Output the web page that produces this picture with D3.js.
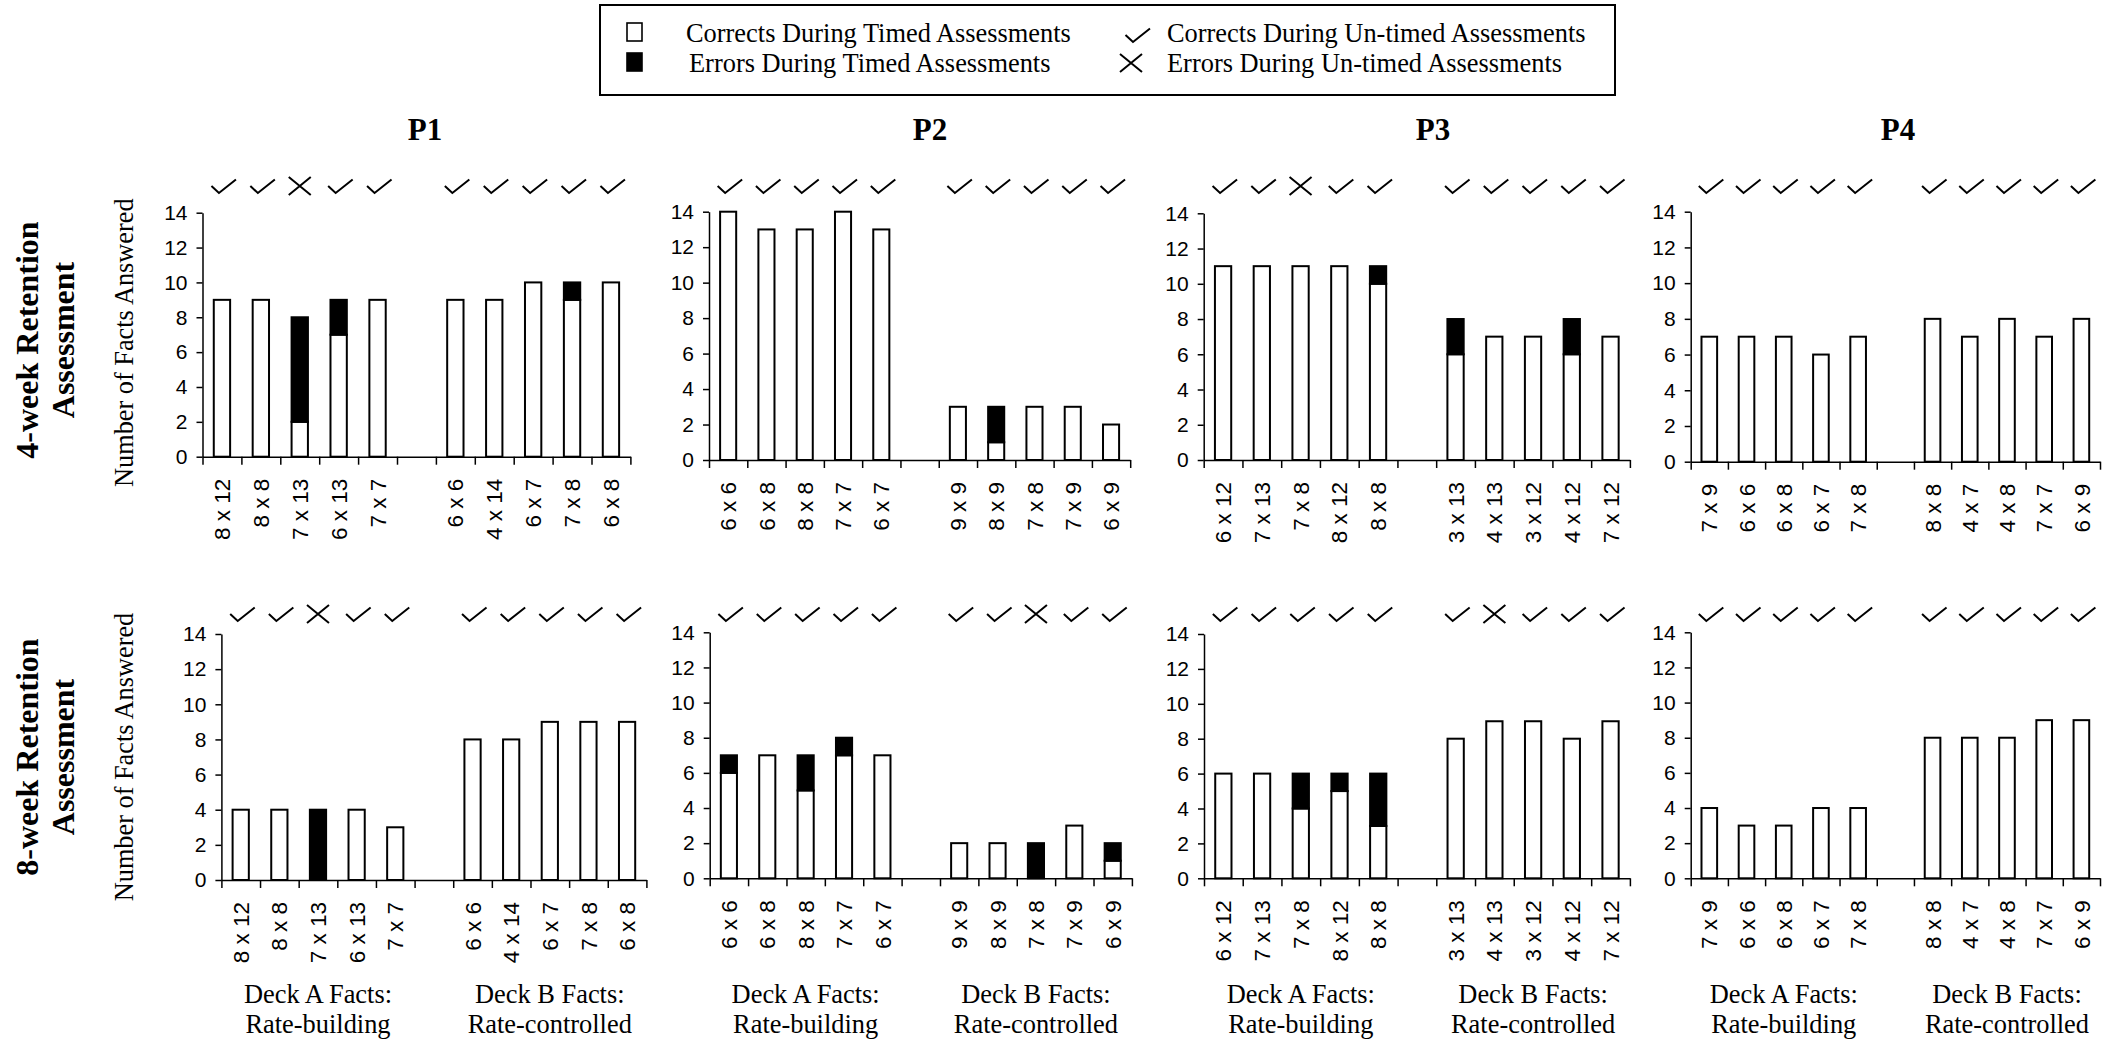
<!DOCTYPE html>
<html>
<head>
<meta charset="utf-8">
<script src="https://cdn.jsdelivr.net/npm/d3@7"></script>
<style>
  html, body { margin: 0; padding: 0; background: #fff; }
  svg { display: block; }
</style>
</head>
<body>
<svg id="chart" width="2117" height="1042"></svg>
<script>
// ---------------- DATA ----------------
const participants = ["P1", "P2", "P3", "P4"];
const retentionRows = ["4-week Retention", "8-week Retention"];
const deckLabels = ["Deck A Facts:", "Deck B Facts:"];
const deckSubLabels = ["Rate-building", "Rate-controlled"];
const yTicks = [0, 2, 4, 6, 8, 10, 12, 14];

const deckAFacts = [
  ["8 x 12", "8 x 8", "7 x 13", "6 x 13", "7 x 7"],
  ["6 x 6", "6 x 8", "8 x 8", "7 x 7", "6 x 7"],
  ["6 x 12", "7 x 13", "7 x 8", "8 x 12", "8 x 8"],
  ["7 x 9", "6 x 6", "6 x 8", "6 x 7", "7 x 8"]
];
const deckBFacts = [
  ["6 x 6", "4 x 14", "6 x 7", "7 x 8", "6 x 8"],
  ["9 x 9", "8 x 9", "7 x 8", "7 x 9", "6 x 9"],
  ["3 x 13", "4 x 13", "3 x 12", "4 x 12", "7 x 12"],
  ["8 x 8", "4 x 7", "4 x 8", "7 x 7", "6 x 9"]
];

// 4-week: corrects / errors during timed assessments (Deck A then Deck B)
const corrects4wk = [
  [9, 9, 2, 7, 9,   9, 9, 10, 9, 10],
  [14, 13, 13, 14, 13,   3, 1, 3, 3, 2],
  [11, 11, 11, 11, 10,   6, 7, 7, 6, 7],
  [7, 7, 7, 6, 7,   8, 7, 8, 7, 8]
];
const errors4wk = [
  [0, 0, 6, 2, 0,   0, 0, 0, 1, 0],
  [0, 0, 0, 0, 0,   0, 2, 0, 0, 0],
  [0, 0, 0, 0, 1,   2, 0, 0, 2, 0],
  [0, 0, 0, 0, 0,   0, 0, 0, 0, 0]
];
// untimed: "c" = correct (check), "e" = error (cross)
const untimed4wk = [
  ["c", "c", "e", "c", "c",   "c", "c", "c", "c", "c"],
  ["c", "c", "c", "c", "c",   "c", "c", "c", "c", "c"],
  ["c", "c", "e", "c", "c",   "c", "c", "c", "c", "c"],
  ["c", "c", "c", "c", "c",   "c", "c", "c", "c", "c"]
];

// 8-week
const corrects8wk = [
  [4, 4, 0, 4, 3,   8, 8, 9, 9, 9],
  [6, 7, 5, 7, 7,   2, 2, 0, 3, 1],
  [6, 6, 4, 5, 3,   8, 9, 9, 8, 9],
  [4, 3, 3, 4, 4,   8, 8, 8, 9, 9]
];
const errors8wk = [
  [0, 0, 4, 0, 0,   0, 0, 0, 0, 0],
  [1, 0, 2, 1, 0,   0, 0, 2, 0, 1],
  [0, 0, 2, 1, 3,   0, 0, 0, 0, 0],
  [0, 0, 0, 0, 0,   0, 0, 0, 0, 0]
];
const untimed8wk = [
  ["c", "c", "e", "c", "c",   "c", "c", "c", "c", "c"],
  ["c", "c", "c", "c", "c",   "c", "c", "e", "c", "c"],
  ["c", "c", "c", "c", "c",   "c", "e", "c", "c", "c"],
  ["c", "c", "c", "c", "c",   "c", "c", "c", "c", "c"]
];

const legendItems = [
  "Corrects During Timed Assessments",
  "Errors During Timed Assessments",
  "Corrects During Un-timed Assessments",
  "Errors During Un-timed Assessments"
];

// ---------------- LAYOUT ----------------
const SERIF = "'Liberation Serif', 'Times New Roman', serif";
const SANS = "'Liberation Sans', Arial, sans-serif";

const panelLayout = [
  [ {l: 202.5, r: 630.4, y14: 212.7, y0: 456.7},
    {l: 709, r: 1130.2, y14: 211.7, y0: 460},
    {l: 1203.7, r: 1629.9, y14: 213.3, y0: 460},
    {l: 1690.7, r: 2100, y14: 211.7, y0: 461.7} ],
  [ {l: 221.4, r: 646.4, y14: 634, y0: 880},
    {l: 709.7, r: 1131.9, y14: 632.3, y0: 878.3},
    {l: 1204, r: 1629.9, y14: 634, y0: 878.3},
    {l: 1690.7, r: 2100, y14: 632.3, y0: 878.3} ]
];
const markBaseline = [193, 621];
const titleX = [425, 930, 1433, 1898];

const svg = d3.select("#chart");

// ---------------- LEGEND ----------------
const lg = svg.append("g");
lg.append("rect").attr("x", 600).attr("y", 5).attr("width", 1015).attr("height", 90)
  .attr("fill", "none").attr("stroke", "#000").attr("stroke-width", 2);
lg.append("rect").attr("x", 627).attr("y", 23).attr("width", 15).attr("height", 18)
  .attr("fill", "#fff").attr("stroke", "#000").attr("stroke-width", 1.6);
lg.append("rect").attr("x", 627).attr("y", 53).attr("width", 15).attr("height", 18)
  .attr("fill", "#000").attr("stroke", "#000").attr("stroke-width", 1.6);
const legText = [[686, 42], [689, 72], [1167, 42], [1167, 72]];
legendItems.forEach((t, i) => {
  lg.append("text").attr("x", legText[i][0]).attr("y", legText[i][1])
    .attr("font-family", SERIF).attr("font-size", 26.4).text(t);
});
function drawCheck(g, cx, yb) {
  g.append("path")
    .attr("d", `M${cx - 11.5},${yb - 7} L${cx - 4},${yb} L${cx + 13},${yb - 13.5}`)
    .attr("fill", "none").attr("stroke", "#000").attr("stroke-width", 2);
}
function drawCross(g, cx, cy) {
  g.append("path")
    .attr("d", `M${cx - 11},${cy - 9} L${cx + 11},${cy + 9} M${cx + 11},${cy - 9} L${cx - 11},${cy + 9}`)
    .attr("fill", "none").attr("stroke", "#000").attr("stroke-width", 2);
}
drawCheck(lg, 1137, 42);
drawCross(lg, 1131, 63);

// ---------------- TITLES ----------------
participants.forEach((p, i) => {
  svg.append("text").attr("x", titleX[i]).attr("y", 140)
    .attr("text-anchor", "middle").attr("font-family", SERIF)
    .attr("font-weight", "bold").attr("font-size", 31).text(p);
});

// Row labels
const rowCenters = [340, 757];
retentionRows.forEach((r, i) => {
  const g = svg.append("g").attr("transform", `translate(0,${rowCenters[i]}) rotate(-90)`);
  g.append("text").attr("x", 0).attr("y", 38).attr("text-anchor", "middle")
    .attr("font-family", SERIF).attr("font-weight", "bold").attr("font-size", 32).text(r);
  g.append("text").attr("x", 0).attr("y", 74).attr("text-anchor", "middle")
    .attr("font-family", SERIF).attr("font-weight", "bold").attr("font-size", 32).text("Assessment");
});

// ---------------- PANELS ----------------
const rowsData = [
  {corrects: corrects4wk, errors: errors4wk, untimed: untimed4wk},
  {corrects: corrects8wk, errors: errors8wk, untimed: untimed8wk}
];

rowsData.forEach((rd, ri) => {
  participants.forEach((p, pi) => {
    const L = panelLayout[ri][pi];
    const facts = deckAFacts[pi].concat([""], deckBFacts[pi]);
    const slots = d3.range(11);
    const x = d3.scaleBand().domain(slots).range([L.l, L.r]).paddingInner(0).paddingOuter(0);
    const y = d3.scaleLinear().domain([0, 14]).range([L.y0, L.y14]);
    const g = svg.append("g");

    // bar records (skip gap slot 5)
    const recs = [];
    for (let k = 0; k < 10; k++) {
      const slot = k < 5 ? k : k + 1;
      recs.push({slot, c: rd.corrects[pi][k], e: rd.errors[pi][k], u: rd.untimed[pi][k]});
    }
    const bw = x.bandwidth() * 0.42;

    // correct portion (white)
    g.selectAll("rect.c").data(recs.filter(d => d.c > 0)).join("rect")
      .attr("x", d => x(d.slot) + (x.bandwidth() - bw) / 2)
      .attr("y", d => y(d.c))
      .attr("width", bw)
      .attr("height", d => y(0) - y(d.c))
      .attr("fill", "#fff").attr("stroke", "#000").attr("stroke-width", 2);
    // error portion (black) stacked on top
    g.selectAll("rect.e").data(recs.filter(d => d.e > 0)).join("rect")
      .attr("x", d => x(d.slot) + (x.bandwidth() - bw) / 2)
      .attr("y", d => y(d.c + d.e))
      .attr("width", bw)
      .attr("height", d => y(d.c) - y(d.c + d.e))
      .attr("fill", "#000").attr("stroke", "#000").attr("stroke-width", 2);

    // y axis
    const ya = g.append("g").attr("transform", `translate(${L.l},0)`)
      .call(d3.axisLeft(y).tickValues(yTicks).tickSize(6).tickSizeOuter(0).tickPadding(9));
    ya.select(".domain").attr("stroke", "#000").attr("stroke-width", 1.5);
    ya.selectAll(".tick line").attr("stroke", "#000").attr("stroke-width", 1.5);
    ya.selectAll(".tick text").attr("font-family", SANS).attr("font-size", 21).attr("fill", "#000");

    // x axis with boundary ticks
    const bound = d3.scaleLinear().domain([0, 11]).range([L.l, L.r]);
    const xa = g.append("g").attr("transform", `translate(0,${L.y0})`)
      .call(d3.axisBottom(bound).tickValues(d3.range(12)).tickSize(8).tickSizeOuter(0).tickFormat(""));
    xa.select(".domain").attr("stroke", "#000").attr("stroke-width", 1.5);
    xa.selectAll(".tick line").attr("stroke", "#000").attr("stroke-width", 1.5);

    // x category labels (rotated)
    facts.forEach((f, s) => {
      if (!f) return;
      g.append("text")
        .attr("transform", `translate(${x(s) + x.bandwidth() / 2},${L.y0 + 22}) rotate(-90)`)
        .attr("text-anchor", "end").attr("dy", "0.36em")
        .attr("font-family", SANS).attr("font-size", 22.5).attr("fill", "#000")
        .text(f);
    });

    // untimed marks
    const yb = markBaseline[ri];
    recs.forEach(d => {
      const cx = x(d.slot) + x.bandwidth() / 2;
      if (d.u === "c") drawCheck(g, cx + 1, yb);
      else drawCross(g, cx, yb - 7);
    });

    // y-axis title on first panel
    if (pi === 0) {
      const cy = (L.y0 + L.y14) / 2 + (ri === 0 ? 8 : 0);
      g.append("text").attr("transform", `translate(133,${cy}) rotate(-90)`)
        .attr("text-anchor", "middle").attr("font-family", SERIF).attr("font-size", 26.3)
        .text("Number of Facts Answered");
    }

    // deck labels on bottom row
    if (ri === 1) {
      const cA = (x(0) + x(4) + x.bandwidth()) / 2;
      const cB = (x(6) + x(10) + x.bandwidth()) / 2;
      [cA, cB].forEach((cx, di) => {
        g.append("text").attr("x", cx).attr("y", 1003).attr("text-anchor", "middle")
          .attr("font-family", SERIF).attr("font-size", 26.4).text(deckLabels[di]);
        g.append("text").attr("x", cx).attr("y", 1033).attr("text-anchor", "middle")
          .attr("font-family", SERIF).attr("font-size", 26.4).text(deckSubLabels[di]);
      });
    }
  });
});
</script>
</body>
</html>
